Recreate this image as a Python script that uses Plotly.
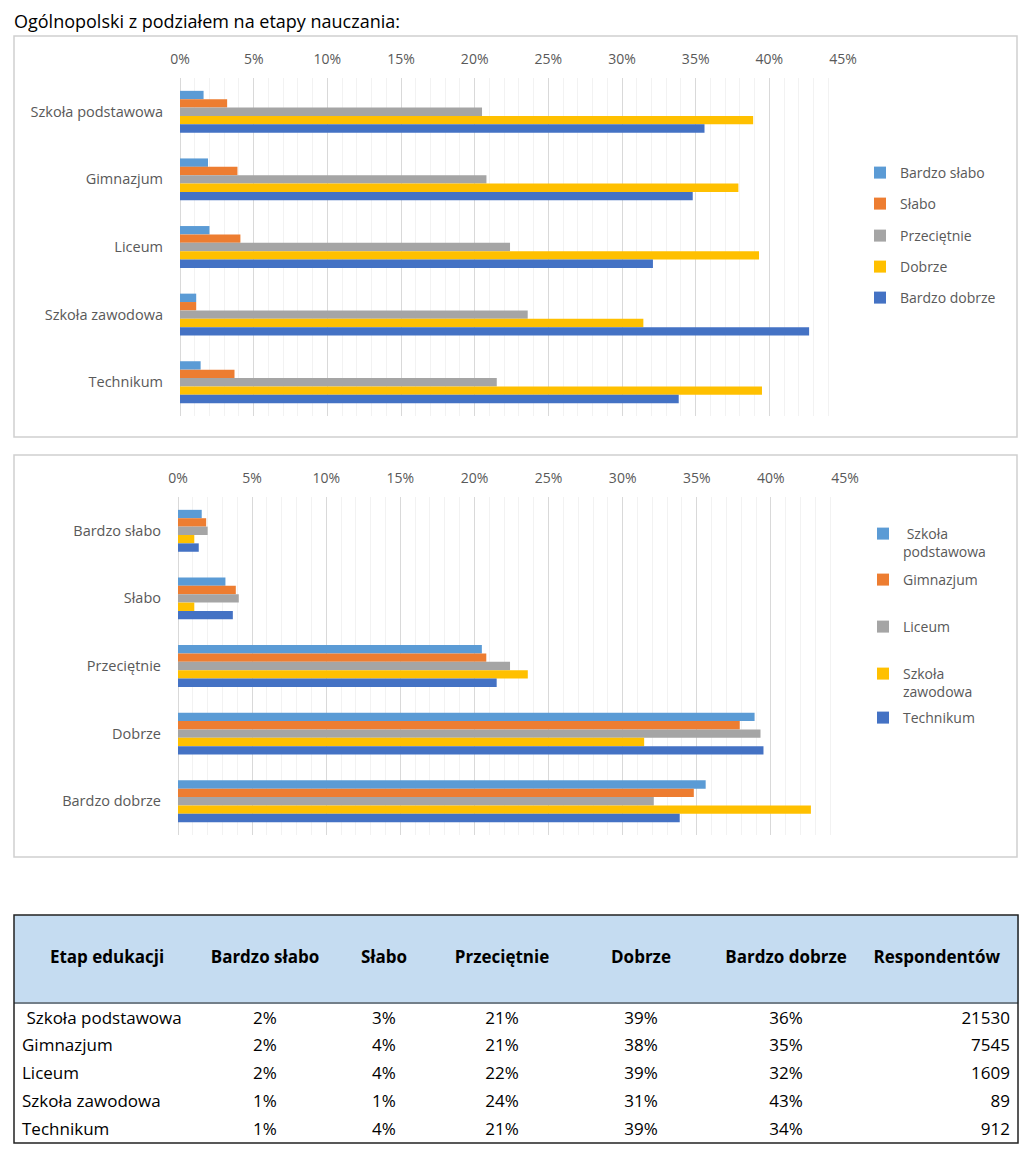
import plotly.graph_objects as go

W, H = 1024, 1150

schools = ["Szkoła podstawowa", "Gimnazjum", "Liceum", "Szkoła zawodowa", "Technikum"]
ratings = ["Bardzo słabo", "Słabo", "Przeciętnie", "Dobrze", "Bardzo dobrze"]
x_ticks = [0, 5, 10, 15, 20, 25, 30, 35, 40, 45]
x_tick_labels = ["0%", "5%", "10%", "15%", "20%", "25%", "30%", "35%", "40%", "45%"]

# percent of answers per rating, one value per school (order as in `schools`)
bardzo_slabo = [1.6, 1.9, 2.0, 1.1, 1.4]
slabo = [3.2, 3.9, 4.1, 1.1, 3.7]
przecietnie = [20.5, 20.8, 22.4, 23.6, 21.5]
dobrze = [38.9, 37.9, 39.3, 31.45, 39.5]
bardzo_dobrze = [35.6, 34.8, 32.1, 42.7, 33.85]

# table
table_header = ["Etap edukacji", "Bardzo słabo", "Słabo", "Przeciętnie", "Dobrze", "Bardzo dobrze", "Respondentów"]
table_schools = ["\u00a0Szkoła podstawowa", "Gimnazjum", "Liceum", "Szkoła zawodowa", "Technikum"]
tbl_bardzo_slabo = [2, 2, 2, 1, 1]
tbl_slabo = [3, 4, 4, 1, 4]
tbl_przecietnie = [21, 21, 22, 24, 21]
tbl_dobrze = [39, 38, 39, 31, 39]
tbl_bardzo_dobrze = [36, 35, 32, 43, 34]
respondents = [21530, 7545, 1609, 89, 912]

rating_colors = ["#5B9BD5", "#ED7D31", "#A5A5A5", "#FFC000", "#4472C4"]
school_colors = ["#5B9BD5", "#ED7D31", "#A5A5A5", "#FFC000", "#4472C4"]
school_legend_names = ["\u00a0Szkoła<br>podstawowa", "Gimnazjum", "Liceum", "Szkoła<br>zawodowa", "Technikum"]

FONT = "Open Sans"
GREY_TXT = "#595959"


def X(px):
    return px / W


def Y(py):
    return 1 - py / H


series = [bardzo_slabo, slabo, przecietnie, dobrze, bardzo_dobrze]

fig = go.Figure()

# --- top chart: schools on y, ratings as series
top_leg_y = [173, 204, 236, 267, 298]
for i, (name, vals) in enumerate(zip(ratings, series)):
    lg = "legend" if i == 0 else f"legend{i + 1}"
    fig.add_trace(go.Bar(
        y=schools, x=vals, name=name, orientation="h",
        marker=dict(color=rating_colors[i], line=dict(width=0)),
        xaxis="x", yaxis="y", legend=lg, showlegend=True,
    ))

# --- bottom chart: ratings on y, schools as series
bot_leg_y = [543, 580, 627, 683, 718]
for j, sname in enumerate(schools):
    vals = [s[j] for s in series]
    lg = f"legend{j + 6}"
    fig.add_trace(go.Bar(
        y=ratings, x=vals, name=school_legend_names[j], orientation="h",
        marker=dict(color=school_colors[j], line=dict(width=0)),
        xaxis="x2", yaxis="y2", legend=lg, showlegend=True,
    ))

# --- table
def pct(v):
    return [f"{a}%" for a in v]

fig.add_trace(go.Table(
    domain=dict(x=[X(14), X(1018)], y=[Y(1143), Y(915)]),
    columnwidth=[186, 130, 108, 128, 150, 140, 162],
    header=dict(
        values=[f"\u00a0<br><b>{h}</b>" for h in table_header],
        fill_color="#C5DCF1",
        line=dict(color="#C5DCF1", width=1),
        align="center",
        height=88,
        font=dict(family=FONT, size=17, color="#000000"),
    ),
    cells=dict(
        values=[table_schools, pct(tbl_bardzo_slabo), pct(tbl_slabo), pct(tbl_przecietnie),
                pct(tbl_dobrze), pct(tbl_bardzo_dobrze), [str(r) for r in respondents]],
        fill_color="#FFFFFF",
        line=dict(color="#FFFFFF", width=1),
        align=["left", "center", "center", "center", "center", "center", "right"],
        height=27.7,
        font=dict(family=FONT, size=17, color="#000000"),
    ),
))

axis_common = dict(
    range=[0, 45], side="top", tickmode="array", tickvals=x_ticks, ticktext=x_tick_labels,
    showgrid=True, gridcolor="#D9D9D9", gridwidth=1,
    zeroline=True, zerolinecolor="#D9D9D9", zerolinewidth=1,
    showline=False, ticks="",
    tickfont=dict(family=FONT, size=14, color=GREY_TXT),
    ticklabelstandoff=10, automargin=False,
    minor=dict(dtick=1, showgrid=True, gridcolor="#F2F2F2", gridwidth=1),
    fixedrange=True,
)
yaxis_common = dict(
    autorange="reversed", showgrid=False, zeroline=False, showline=False, ticks="",
    tickfont=dict(family=FONT, size=14.5, color=GREY_TXT),
    ticklabelstandoff=16, automargin=False, fixedrange=True,
)

legends = {}
for i in range(5):
    key = "legend" if i == 0 else f"legend{i + 1}"
    legends[key] = dict(
        x=X(860), y=Y(top_leg_y[i]), xanchor="left", yanchor="middle",
        bgcolor="rgba(0,0,0,0)", font=dict(family=FONT, size=14, color=GREY_TXT),
    )
for j in range(5):
    key = f"legend{j + 6}"
    legends[key] = dict(
        x=X(863), y=Y(bot_leg_y[j]), xanchor="left", yanchor="middle", valign="top",
        bgcolor="rgba(0,0,0,0)", font=dict(family=FONT, size=14, color=GREY_TXT),
    )

fig.update_layout(
    width=W, height=H,
    margin=dict(l=0, r=0, t=0, b=0, autoexpand=False),
    paper_bgcolor="white", plot_bgcolor="white",
    showlegend=True,
    barmode="group", bargap=0.38, bargroupgap=0,
    xaxis=dict(domain=[X(180), X(843)], anchor="y", **axis_common),
    yaxis=dict(domain=[Y(416), Y(78)], anchor="x", **yaxis_common),
    xaxis2=dict(domain=[X(178), X(845)], anchor="y2", **axis_common),
    yaxis2=dict(domain=[Y(835), Y(497)], anchor="x2", **yaxis_common),
    **legends,
    annotations=[dict(
        text="Ogólnopolski z podziałem na etapy nauczania:",
        x=X(12), y=Y(21), xref="paper", yref="paper",
        xanchor="left", yanchor="middle", showarrow=False,
        font=dict(family=FONT, size=18, color="#000000"),
    )],
    shapes=[
        dict(type="rect", xref="paper", yref="paper", x0=X(14), x1=X(1017), y0=Y(437), y1=Y(36),
             line=dict(color="#D0D0D0", width=1.5)),
        dict(type="rect", xref="paper", yref="paper", x0=X(14), x1=X(1017), y0=Y(857), y1=Y(455),
             line=dict(color="#D0D0D0", width=1.5)),
        dict(type="rect", xref="paper", yref="paper", x0=X(14), x1=X(1018), y0=Y(1143), y1=Y(915),
             line=dict(color="#222222", width=1.5)),
        dict(type="line", xref="paper", yref="paper", x0=X(14), x1=X(1018), y0=Y(1003), y1=Y(1003),
             line=dict(color="#222222", width=1.2)),
    ],
)

post = """
document.body.style.margin='0px';
document.documentElement.style.overflow='hidden';
document.body.style.overflow='hidden';
"""

fig.write_html("out.html", post_script=post, config={"displayModeBar": False})
